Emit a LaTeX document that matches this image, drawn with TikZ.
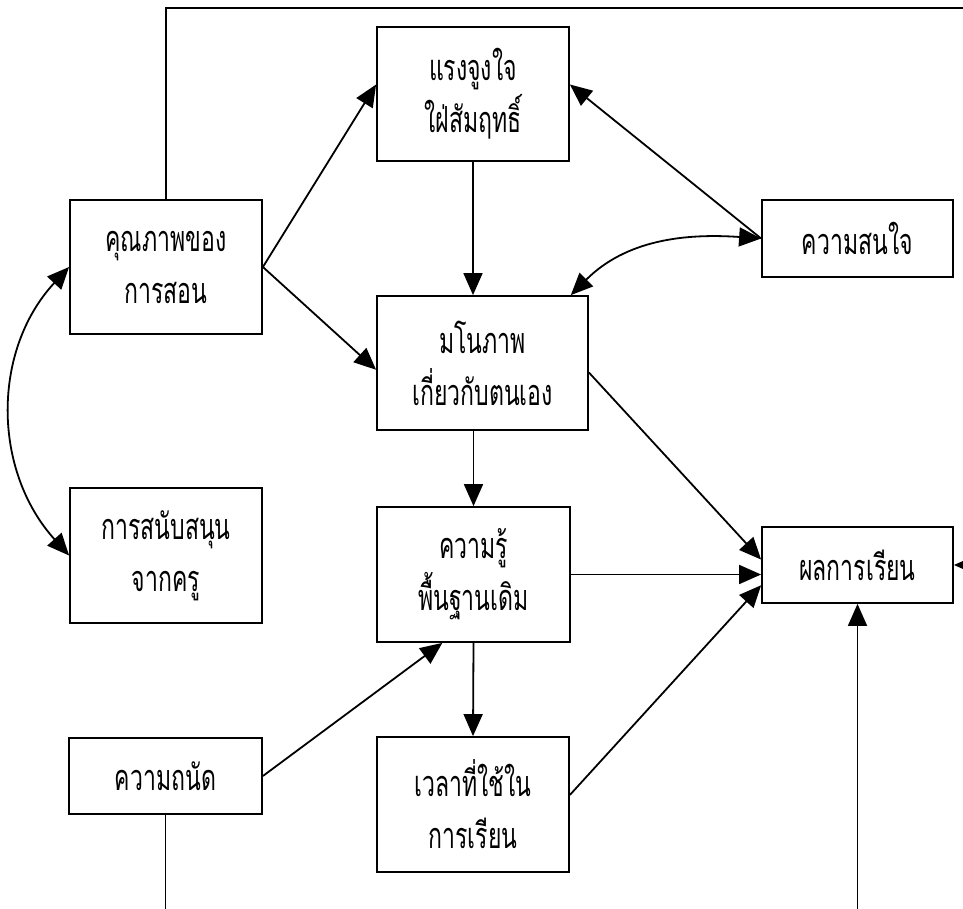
\documentclass[tikz,border=0pt]{standalone}
\usepackage{fontspec}
\newfontfamily\thaifont[Script=Thai, FakeStretch=0.64]{Loma}
\usetikzlibrary{arrows.meta,calc}
\begin{document}
\begin{tikzpicture}[x=1pt,y=-1pt,
  box/.style={draw, line width=1.8pt, inner sep=0pt, align=center,
    font=\thaifont\fontsize{36}{52}\selectfont},
  arr/.style={-{Triangle[length=22pt,width=19pt]}, line width=1.8pt},
  biarr/.style={{Triangle[length=22pt,width=19pt]}-{Triangle[length=22pt,width=19pt]}, line width=1.8pt}]
\useasboundingbox (0,0) rectangle (963,909);
\clip (0,0) rectangle (963,909);

% boxes
\node[box, minimum width=192pt, minimum height=134pt] (mot)  at (473,94)    {แรงจูงใจ\\ใฝ่สัมฤทธิ์};
\node[box, minimum width=192pt, minimum height=134pt] (qual) at (166,267)   {คุณภาพของ\\การสอน};
\node[box, minimum width=191pt, minimum height=77pt]  (intr) at (857.5,238.5) {ความสนใจ};
\node[box, minimum width=211pt, minimum height=134pt] (self) at (482.5,363) {มโนภาพ\\เกี่ยวกับตนเอง};
\node[box, minimum width=192pt, minimum height=135pt] (sup)  at (166,555.5) {การสนับสนุน\\จากครู};
\node[box, minimum width=193pt, minimum height=135pt] (know) at (473.5,574.5) {ความรู้\\พื้นฐานเดิม};
\node[box, minimum width=191pt, minimum height=76pt]  (ach)  at (857.5,565) {ผลการเรียน};
\node[box, minimum width=193pt, minimum height=76pt]  (apt)  at (165.5,776) {ความถนัด};
\node[box, minimum width=192pt, minimum height=135pt] (time) at (473,804.5) {เวลาที่ใช้ใน\\การเรียน};

% points on the box borders
\coordinate (motL)  at ($(mot.north west)!0.43!(mot.south west)$);
\coordinate (motR)  at ($(mot.north east)!0.43!(mot.south east)$);
\coordinate (selfL) at ($(self.north west)!0.55!(self.south west)$);
\coordinate (selfR) at ($(self.north east)!0.57!(self.south east)$);
\coordinate (selfT) at ($(self.north west)!0.915!(self.north east)$);
\coordinate (knowB) at ($(know.south west)!0.34!(know.south east)$);
\coordinate (timeR) at ($(time.north east)!0.43!(time.south east)$);
\coordinate (achA)  at ($(ach.north west)!0.43!(ach.south west)$);
\coordinate (achC)  at ($(ach.north west)!0.76!(ach.south west)$);
\coordinate (tr) at (990,8);
\coordinate (br) at (500,935);

% connectors
\draw[arr] (qual.east) -- (motL);
\draw[arr] (qual.east) -- (selfL);
\draw[arr] (mot.south) -- (mot.south |- self.north);
\draw[arr] (intr.west) -- (motR);
\draw[biarr] (intr.west) to[out=176, in=45] (selfT);
\draw[arr] (know.north |- self.south) -- (know.north);
\draw[arr] (know.south) -- (time.north);
\draw[arr] (apt.east) -- (knowB);
\draw[arr] (selfR) -- (achA);
\draw[arr] (know.east) -- (know.east -| ach.west);
\draw[arr] (timeR) -- (achC);
\draw[biarr] (qual.west) .. controls (-8,350) and (-8,470) .. (sup.west);
\draw[arr] (qual.north) |- (tr) |- (ach.east);
\draw[arr] (apt.south) |- (br) -| (ach.south);
\end{tikzpicture}
\end{document}
